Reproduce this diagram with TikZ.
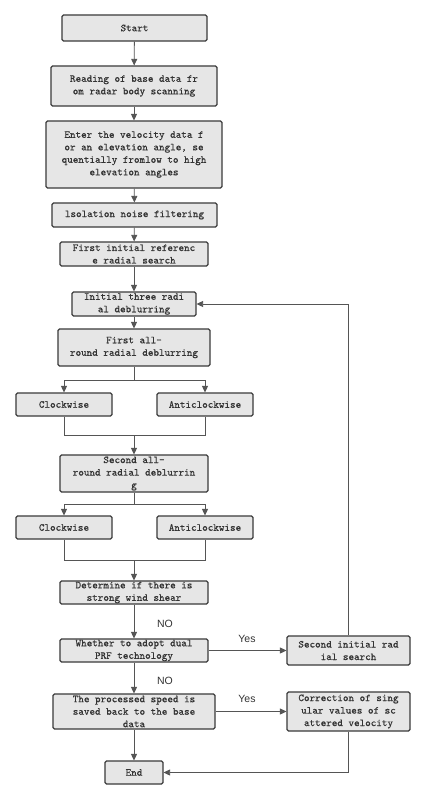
\documentclass[tikz,border=0pt]{standalone}
\usepackage{fontspec}
\setmainfont{Liberation Serif}
\newfontfamily\boxfont{Latin Modern Mono}[FakeBold=0.6]
\newfontfamily\labfont{Liberation Sans}
\usetikzlibrary{arrows.meta}
\definecolor{boxfill}{HTML}{E6E6E6}
\definecolor{boxdraw}{HTML}{3A3A3A}
\definecolor{linecol}{HTML}{555555}
\definecolor{txtcol}{HTML}{333333}
\tikzset{
  box/.style={draw=boxdraw, fill=boxfill, line width=1.1pt, rounded corners=1.5pt,
    inner sep=0pt, align=center, text=txtcol,
    font=\boxfont\fontsize{10.6}{12.5}\selectfont},
  conn/.style={draw=linecol, line width=0.8pt},
  arr/.style={conn, -{Triangle[length=6.5pt,width=6pt]}},
  lab/.style={font=\labfont\fontsize{10.5}{12}\selectfont, text=txtcol, inner sep=0pt}
}
\begin{document}
\begin{tikzpicture}[x=1pt,y=-1pt]
\useasboundingbox (0,0) rectangle (426,800);
\fill[white] (0,0) rectangle (426,800);

\node[box, minimum width=145pt, minimum height=26pt] (start) at (134.5,28) {Start};
\node[box, minimum width=166pt, minimum height=40pt] (read) at (134,86) {Reading of base data fr\\om radar body scanning};
\node[box, minimum width=176pt, minimum height=67pt] (enter) at (134,154.5) {Enter the velocity data f\\or an elevation angle, se\\quentially fromlow to high\\elevation angles};
\node[box, minimum width=165pt, minimum height=24pt] (iso) at (134.5,215) {lsolation noise filtering};
\node[box, minimum width=148pt, minimum height=24pt] (fir) at (134,254) {First initial referenc\\e radial search};
\node[box, minimum width=124pt, minimum height=24pt] (it) at (134,304) {Initial three radi\\al deblurring};
\node[box, minimum width=152pt, minimum height=37pt] (fa) at (134,347.5) {First all-\\round radial deblurring};
\node[box, minimum width=96pt, minimum height=23pt] (cw1) at (64,404.5) {Clockwise};
\node[box, minimum width=96pt, minimum height=23pt] (acw1) at (205,404.5) {Anticlockwise};
\node[box, minimum width=148pt, minimum height=37pt] (sa) at (134,473.5) {Second all-\\round radial deblurrin\\g};
\node[box, minimum width=96pt, minimum height=23pt] (cw2) at (64,527.5) {Clockwise};
\node[box, minimum width=96pt, minimum height=23pt] (acw2) at (205,527.5) {Anticlockwise};
\node[box, minimum width=148pt, minimum height=23pt] (det) at (134,592.5) {Determine if there is\\strong wind shear};
\node[box, minimum width=148pt, minimum height=23pt] (wh) at (134,650.5) {Whether to adopt dual\\PRF technology};
\node[box, minimum width=123pt, minimum height=29pt] (si) at (348.5,650.5) {Second initial rad\\ial search};
\node[box, minimum width=162pt, minimum height=35pt] (proc) at (134,711.5) {The processed speed is\\saved back to the base\\data};
\node[box, minimum width=123pt, minimum height=39pt] (cor) at (348.5,711.5) {Correction of sing\\ular values of sc\\attered velocity};
\node[box, minimum width=58pt, minimum height=23pt] (end) at (134,772.5) {End};

\coordinate (b1) at (134,380);
\coordinate (m1) at (134,435);
\coordinate (b2) at (134,504);
\coordinate (m2) at (134,560);

\draw[arr] (start) -- (read);
\draw[arr] (read) -- (enter);
\draw[arr] (enter) -- (iso);
\draw[arr] (iso) -- (fir);
\draw[arr] (fir) -- (it);
\draw[arr] (it) -- (fa);
\draw[conn] (fa.south) -- (b1);
\draw[arr] (b1) -| (cw1.north);
\draw[arr] (b1) -| (acw1.north);
\draw[conn] (cw1.south) |- (m1);
\draw[conn] (acw1.south) |- (m1);
\draw[arr] (m1) -- (sa.north);
\draw[conn] (sa.south) -- (b2);
\draw[arr] (b2) -| (cw2.north);
\draw[arr] (b2) -| (acw2.north);
\draw[conn] (cw2.south) |- (m2);
\draw[conn] (acw2.south) |- (m2);
\draw[arr] (m2) -- (det.north);
\draw[arr] (det) -- (wh);
\draw[arr] (wh) -- (proc);
\draw[arr] (proc) -- (end);
\draw[arr] (wh) -- (si);
\draw[arr] (proc) -- (cor);
\draw[arr] (si.north) |- (it.east);
\draw[arr] (cor.south) |- (end.east);

\node[lab] (no1) at (165,624) {NO};
\node[lab] (no2) at (165,681) {NO};
\node[lab] (yes1) at (247,639) {Yes};
\node[lab] (yes2) at (247,699) {Yes};
\end{tikzpicture}
\end{document}
